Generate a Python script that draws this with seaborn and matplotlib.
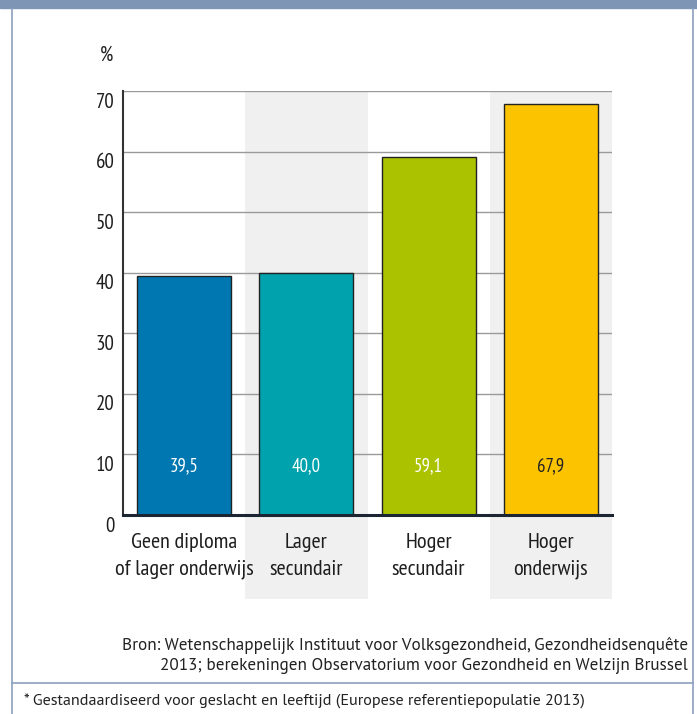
import matplotlib
matplotlib.use("Agg")
import matplotlib.pyplot as plt
import matplotlib.transforms as mtransforms
from matplotlib.patches import Rectangle
from matplotlib.lines import Line2D
import seaborn as sns
import pandas as pd

categories = ["Geen diploma\nof lager onderwijs", "Lager\nsecundair", "Hoger\nsecundair", "Hoger\nonderwijs"]
values = [39.5, 40.0, 59.1, 67.9]
value_labels = ["39,5", "40,0", "59,1", "67,9"]
bar_colors = ["#0077B0", "#00A3AD", "#ABC200", "#FCC300"]
label_colors = ["white", "white", "white", "#222222"]
y_ticks = [0, 10, 20, 30, 40, 50, 60, 70]

sns.set_style("white")
NARROW = ["PT Sans Narrow", "DejaVu Sans"]
REGULAR = ["PT Sans", "DejaVu Sans"]
plt.rcParams["font.family"] = NARROW

fig = plt.figure(figsize=(6.97, 7.14), dpi=100)
W, H = 697, 714

def fx(px):
    return px / W

def fy(py):
    return 1 - py / H

# outer frame and header band
fig.patches.append(Rectangle((0, fy(8)), 1, 8 / H, transform=fig.transFigure,
                             color="#7F95B5", zorder=0))
frame_col = "#8CA0BE"
fig.lines.append(Line2D([fx(12), fx(12)], [fy(8), 0], transform=fig.transFigure, color=frame_col, lw=1.2))
fig.lines.append(Line2D([fx(693), fx(693)], [fy(8), 0], transform=fig.transFigure, color=frame_col, lw=1.2))
fig.lines.append(Line2D([fx(12), fx(693)], [fy(683), fy(683)], transform=fig.transFigure, color=frame_col, lw=1.2))

ax = fig.add_axes([fx(123), fy(515), fx(612) - fx(123), (515 - 91) / H])

df = pd.DataFrame({"cat": categories, "val": values})

# shaded column bands behind alternate categories
band_bottom = -(599 - 515) / (515 - 91)
for i in (1, 3):
    ax.add_patch(Rectangle((i - 0.5, band_bottom), 1, 1 - band_bottom,
                           transform=ax.get_xaxis_transform(), facecolor="#F0F0F0",
                           edgecolor="none", clip_on=False, zorder=0))

for v in y_ticks[1:]:
    ax.axhline(v, color="#9A9A9A", lw=1, zorder=1)

sns.barplot(data=df, x="cat", y="val", hue="cat", palette=bar_colors, legend=False,
            width=0.77, edgecolor="#222222", linewidth=1.0, saturation=1, ax=ax, zorder=2)

for i, (lab, c) in enumerate(zip(value_labels, label_colors)):
    ax.text(i, 8.0, lab, ha="center", va="center", color=c, fontsize=13.5, zorder=3)

ax.set_xlim(-0.5, 3.5)
ax.set_ylim(0, 70)
ax.set_yticks(y_ticks)
ax.set_yticklabels([str(t) for t in y_ticks], fontsize=15, color="#1E1E1E")
ax.tick_params(axis="y", length=0, pad=6)
ax.tick_params(axis="x", length=0, pad=13, labelsize=16, labelcolor="#1E1E1E")
for t in ax.get_xticklabels():
    t.set_linespacing(1.5)
offset = mtransforms.ScaledTranslation(0, -9 / 100, fig.dpi_scale_trans)
for t in ax.get_yticklabels():
    t.set_transform(t.get_transform() + offset)
ax.set_xlabel("")
ax.set_ylabel("")
ax.set_facecolor("none")

for s in ("top", "right"):
    ax.spines[s].set_visible(False)
ax.spines["left"].set_color("#333333")
ax.spines["left"].set_linewidth(1.5)
ax.spines["bottom"].set_color("#1C2633")
ax.spines["bottom"].set_linewidth(2.2)
ax.spines["left"].set_zorder(4)
ax.spines["bottom"].set_zorder(4)

fig.text(fx(107), fy(55), "%", fontsize=15, color="#1E1E1E", ha="center", va="center")

fig.text(fx(688), fy(645), "Bron: Wetenschappelijk Instituut voor Volksgezondheid, Gezondheidsenquête",
         fontsize=12.3, color="#222222", ha="right", va="center", family=REGULAR)
fig.text(fx(688), fy(666), "2013; berekeningen Observatorium voor Gezondheid en Welzijn Brussel",
         fontsize=12.3, color="#222222", ha="right", va="center", family=REGULAR)
fig.text(fx(24), fy(701), "* Gestandaardiseerd voor geslacht en leeftijd (Europese referentiepopulatie 2013)",
         fontsize=11.6, color="#222222", ha="left", va="center", family=REGULAR)

fig.savefig("out.png", dpi=100)
